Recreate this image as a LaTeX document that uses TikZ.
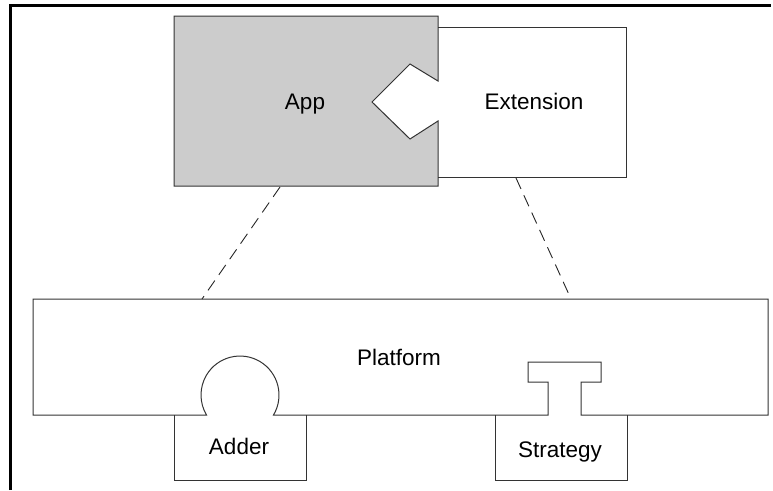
\documentclass[tikz,border=0pt]{standalone}
\usepackage{fontspec}
\setmainfont{Liberation Sans}

\begin{document}
\begin{tikzpicture}[x=1pt,y=-1pt,
  part/.style={draw=black!80,line width=1pt},
  link/.style={draw=black!85,line width=0.9pt,dash pattern=on 12pt off 7pt},
  lbl/.style={anchor=base,inner sep=0pt,font=\fontsize{22.5}{27}\selectfont}]
\useasboundingbox (0,0) rectangle (773,490);
\draw[line width=3pt] (10.5,490)--(10.5,5)--(771,5);
\draw[part,fill=black!20] (174,16)--(438,16)--(438,81)--(410,64)--(372,102)--(410,139)--(438,121)
  --(438,186)--(174,186)--cycle;
\draw[part] (438,27)--(626,27)--(626,177)--(438,177);
\draw[part] (33,299)--(768,299)--(768,415)--(581,415)--(581,382)--(601,382)--(601,362)
  --(528,362)--(528,382)--(548,382)--(548,415)--(273.5,415)
  arc[start angle=-30.8,end angle=210.8,radius=39pt]--(33,415)--cycle;
\draw[part] (174,415)--(174,480)--(306,480)--(306,415);
\draw[part] (495,415)--(495,480)--(627,480)--(627,415);
\draw
(305,109) node[lbl](app){App}
(534,109) node[lbl](ext){Extension}
(399,365) node[lbl](plat){Platform}
(239,454) node[lbl](adder){Adder}
(560,457) node[lbl](strat){Strategy}
(280,187) coordinate(app-s)
(516,178) coordinate(ext-s)
(202,299) coordinate(plat-w)
(571,299) coordinate(plat-e)
;
\foreach \x/\y in {app-s/plat-w, ext-s/plat-e}{
\draw[link](\x)--(\y);
}
\end{tikzpicture}
\end{document}
